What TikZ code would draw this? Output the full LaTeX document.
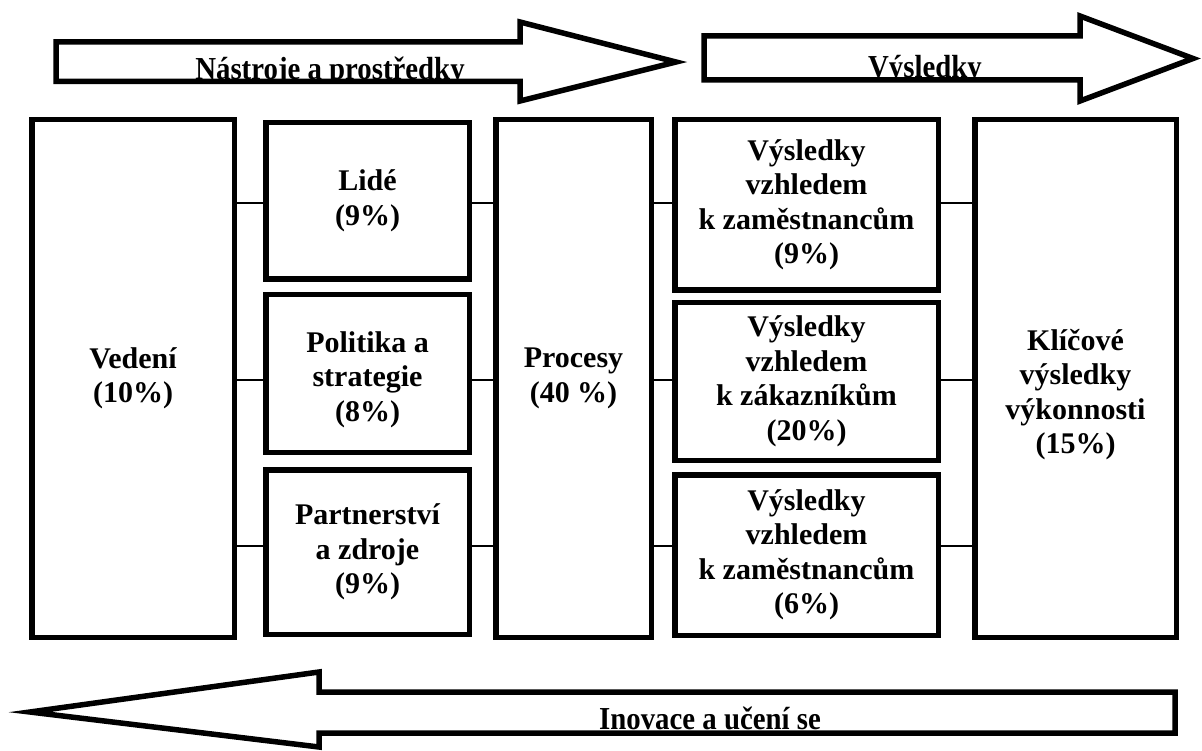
\documentclass[tikz,border=0pt]{standalone}
\usepackage{fontspec}
\setmainfont{Liberation Serif}
\newfontfamily\condserif[FakeStretch=0.9]{Liberation Serif}
\newcommand\diagboxfont{\bfseries\fontsize{30}{34.5}\selectfont}
\newcommand\diagarrowfont{\condserif\bfseries\fontsize{32}{36}\selectfont}
\begin{document}
\begin{tikzpicture}[x=1pt,y=-1pt,
  box/.style={draw, line width=5.5pt, align=center, inner sep=0pt, font=\diagboxfont},
  boxtext/.style={inner sep=0pt, align=center, font=\diagboxfont},
  link/.style={line width=2pt},
  bigarrow/.style={line width=5.5pt, line join=miter, miter limit=12},
  lbl/.style={inner sep=0pt, anchor=base, font=\diagarrowfont}]
\useasboundingbox (0,0) rectangle (1202,751);

% connector rows
\coordinate (row1) at (0,203);
\coordinate (row2) at (0,380);
\coordinate (row3) at (0,546);

% enablers
\node[box, minimum width=202.5pt, minimum height=517.5pt] (vedeni) at (133,378.5) {Vedení\\(10\%)};
\node[box, minimum width=203.5pt, minimum height=156.5pt] (lide) at (367.5,201) {Lidé\\(9\%)};
\node[box, minimum width=203.5pt, minimum height=157.5pt] (politika) at (367.5,373.5) {};
\node[boxtext] (politikatext) at ([yshift=-6pt]politika.center) {Politika a\\strategie\\(8\%)};
\node[box, minimum width=203.5pt, minimum height=164.5pt] (partner) at (367.5,552) {Partnerství\\a zdroje\\(9\%)};
\node[box, minimum width=155.5pt, minimum height=517.5pt] (procesy) at (573.5,378.5) {Procesy\\(40 \%)};

% results
\node[box, minimum width=263.5pt, minimum height=170.5pt] (zam) at (806.5,205) {Výsledky\\vzhledem\\k zaměstnancům\\(9\%)};
\node[box, minimum width=263.5pt, minimum height=157.5pt] (zak) at (806.5,381.5) {Výsledky\\vzhledem\\k zákazníkům\\(20\%)};
\node[box, minimum width=263.5pt, minimum height=160.5pt] (spol) at (806.5,555) {Výsledky\\vzhledem\\k zaměstnancům\\(6\%)};
\node[box, minimum width=201.5pt, minimum height=517.5pt] (klicove) at (1075.5,378.5) {};
\node[boxtext] (klicovetext) at ([yshift=-16pt]klicove.center) {Klíčové\\výsledky\\výkonnosti\\(15\%)};

% connectors
\draw[link] (vedeni.east |- row1) -- (lide.west |- row1);
\draw[link] (vedeni.east |- row2) -- (politika.west |- row2);
\draw[link] (vedeni.east |- row3) -- (partner.west |- row3);
\draw[link] (lide.east |- row1) -- (procesy.west |- row1);
\draw[link] (politika.east |- row2) -- (procesy.west |- row2);
\draw[link] (partner.east |- row3) -- (procesy.west |- row3);
\draw[link] (procesy.east |- row1) -- (zam.west |- row1);
\draw[link] (procesy.east |- row2) -- (zak.west |- row2);
\draw[link] (procesy.east |- row3) -- (spol.west |- row3);
\draw[link] (zam.east |- row1) -- (klicove.west |- row1);
\draw[link] (zak.east |- row2) -- (klicove.west |- row2);
\draw[link] (spol.east |- row3) -- (klicove.west |- row3);

% block arrow: tools and means
\begin{scope}
  \clip (56,42) -- (520,42) -- (520,22) -- (676,62) -- (520,101) -- (520,81.5) -- (56,81.5) -- cycle;
  \node[lbl] (tools) at (330,79.5) {Nástroje a prostředky};
\end{scope}
\draw[bigarrow] (56,42) -- (520,42) -- (520,22) -- (676,62) -- (520,101) -- (520,81.5) -- (56,81.5) -- cycle;

% block arrow: results
\begin{scope}
  \clip (704,36) -- (1080,36) -- (1080,16) -- (1193,58.5) -- (1080,101) -- (1080,80) -- (704,80) -- cycle;
  \node[lbl] (results) at (925,77.5) {Výsledky};
\end{scope}
\draw[bigarrow] (704,36) -- (1080,36) -- (1080,16) -- (1193,58.5) -- (1080,101) -- (1080,80) -- (704,80) -- cycle;

% block arrow: innovation and learning
\begin{scope}
  \clip (1175,692) -- (319,692) -- (319,672) -- (30,712) -- (319,747) -- (319,733) -- (1175,733) -- cycle;
  \node[lbl] (innov) at (710,729) {Inovace a učení se};
\end{scope}
\draw[bigarrow] (1175,692) -- (319,692) -- (319,672) -- (30,712) -- (319,747) -- (319,733) -- (1175,733) -- cycle;
\end{tikzpicture}
\end{document}
